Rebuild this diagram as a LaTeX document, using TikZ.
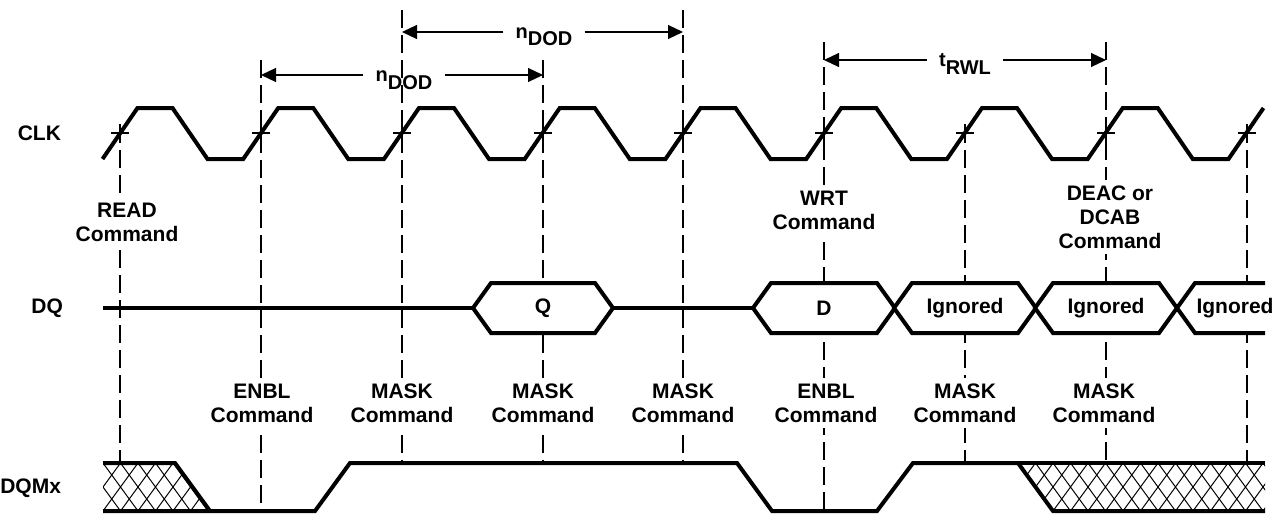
\documentclass[tikz,border=0pt]{standalone}
\usepackage{fontspec}
\setmainfont{Liberation Sans}
\usetikzlibrary{arrows.meta}

\begin{document}
\begin{tikzpicture}[x=0.5pt, y=-0.5pt,
    wave/.style={line width=2pt},
    guide/.style={line width=0.6pt, dash pattern=on 9pt off 3.5pt},
    hatch/.style={line width=0.5pt},
    dim/.style={line width=0.6pt, -{Triangle[length=7.5pt, width=7pt]}},
    txt/.style={font=\fontsize{10.5}{12}\selectfont\bfseries, align=center},
    cmd/.style={txt, fill=white, inner sep=3pt},
    sig/.style={txt, anchor=east},
    dimlbl/.style={font=\fontsize{10}{12}\selectfont\bfseries, text height=7pt, text depth=0pt, inner xsep=6pt, inner ysep=0pt}]
  \useasboundingbox (0,0) rectangle (1276,514);

  % dashed guides at the rising edges
  \foreach \x/\top/\bot in {120/125/463, 261/60/511, 402/10/463, 543/60/463, 683/10/463,
                            824/42/511, 965/125/463, 1106/42/463, 1247/125/463}
    \draw [guide] (\x,\top) -- (\x,\bot);

  % signal names
  \node [sig] (clkLbl) at (68,133) {CLK};
  \node [sig] (dqLbl) at (70,308) {DQ};
  \node [sig] (dqmLbl) at (68,488) {DQMx};

  % CLK
  \draw [wave] (102.5,159) \foreach \k in {0,...,7} { -- ++(35,-51) -- ++(35,0) -- ++(35,51) -- ++(35.75,0) } -- ++(35,-51);
  \foreach \x in {120,261,402,543,683,824,965,1106,1247}
    \draw [line width=0.6pt] (\x-9,133) -- (\x+9,133) (\x,124) -- (\x,142);

  % timing arrows
  \node [dimlbl] (ndodTop) at (544,32) {n\raisebox{-3.5pt}{DOD}};
  \coordinate (ndodTopL) at (402,32);
  \coordinate (ndodTopR) at (683,32);
  \draw [dim] (ndodTop) -- (ndodTopL);
  \draw [dim] (ndodTop) -- (ndodTopR);

  \node [dimlbl] (ndodLow) at (404,75) {n\raisebox{-3.5pt}{DOD}};
  \coordinate (ndodLowL) at (261,75);
  \coordinate (ndodLowR) at (543,75);
  \draw [dim] (ndodLow) -- (ndodLowL);
  \draw [dim] (ndodLow) -- (ndodLowR);

  \node [dimlbl] (trwl) at (965,60) {t\raisebox{-3.5pt}{RWL}};
  \coordinate (trwlL) at (824,60);
  \coordinate (trwlR) at (1106,60);
  \draw [dim] (trwl) -- (trwlL);
  \draw [dim] (trwl) -- (trwlR);

  % commands
  \node [cmd] (readCmd) at (127,222) {READ\\Command};
  \node [cmd] (wrtCmd) at (824,210) {WRT\\Command};
  \node [cmd] (deacCmd) at (1110,217) {DEAC or\\DCAB\\Command};
  \node [cmd] (enblA) at (262,403) {ENBL\\Command};
  \node [cmd] (maskA) at (402,403) {MASK\\Command};
  \node [cmd] (maskB) at (543,403) {MASK\\Command};
  \node [cmd] (maskC) at (683,403) {MASK\\Command};
  \node [cmd] (enblB) at (826,403) {ENBL\\Command};
  \node [cmd] (maskD) at (965,403) {MASK\\Command};
  \node [cmd] (maskE) at (1104,403) {MASK\\Command};

  % DQ
  \draw [wave] (103,308) -- (473,308);
  \draw [wave] (613,308) -- (753,308);
  \draw [wave, fill=white] (473,308) -- (491,283) -- (595,283) -- (613,308) -- (595,333) -- (491,333) -- cycle;
  \foreach \c in {824,965,1106}
    \draw [wave, fill=white] (\c-71,308) -- (\c-53,283) -- (\c+53,283) -- (\c+71,308) -- (\c+53,333) -- (\c-53,333) -- cycle;
  \fill [white] (1177,308) -- (1195,283) -- (1265,283) -- (1265,333) -- (1195,333) -- cycle;
  \draw [wave] (1265,283) -- (1195,283) -- (1177,308) -- (1195,333) -- (1265,333);
  \node [txt] (q) at (543,308) {Q};
  \node [txt] (d) at (824,308) {D};
  \node [txt] (ignA) at (965,308) {Ignored};
  \node [txt] (ignB) at (1106,308) {Ignored};
  \node [txt] (ignC) at (1235,308) {Ignored};

  % DQMx
  \begin{scope}
    \clip (103,463) -- (175,463) -- (210,511) -- (103,511) -- cycle;
    \foreach \x in {68,85.5,...,215}
      \draw [hatch] (\x,463) -- (\x+35,511) (\x+35,463) -- (\x,511);
  \end{scope}
  \begin{scope}
    \clip (1018,463) -- (1265,463) -- (1265,511) -- (1053,511) -- cycle;
    \foreach \x in {983,1000.5,...,1270}
      \draw [hatch] (\x,463) -- (\x+35,511) (\x+35,463) -- (\x,511);
  \end{scope}
  \draw [wave] (103,463) -- (175,463) -- (210,511);
  \draw [wave] (103,511) -- (315,511) -- (350,463) -- (737,463) -- (772,511) -- (877,511) -- (913,463) -- (1018,463) -- (1053,511) -- (1265,511);
  \draw [wave] (1018,463) -- (1265,463);
\end{tikzpicture}
\end{document}
